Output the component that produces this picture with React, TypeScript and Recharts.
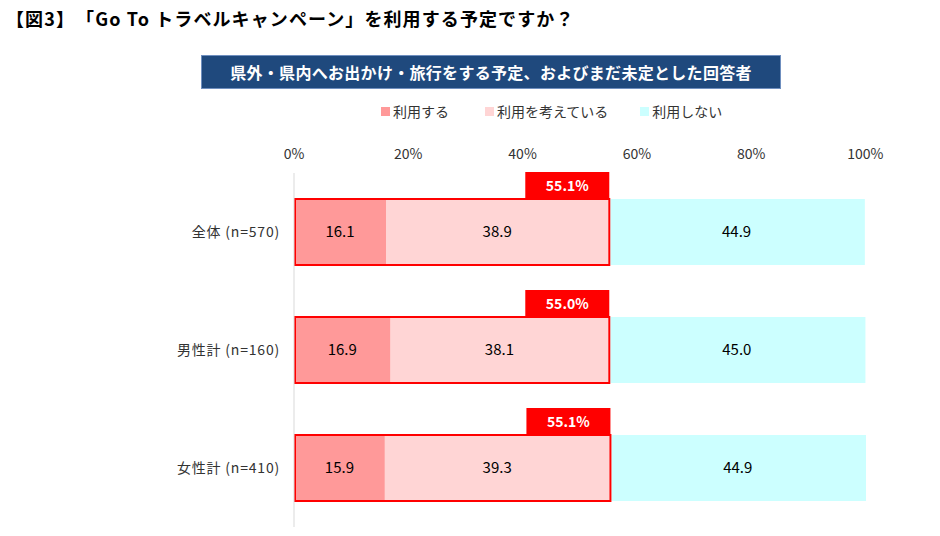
import { BarChart, Bar, XAxis, YAxis, LabelList, ReferenceLine } from 'recharts';

const FONT = '"Noto Sans CJK JP", "Noto Sans", sans-serif';

const categories = ['全体 (n=570)', '男性計 (n=160)', '女性計 (n=410)'];
const useValues = [16.1, 16.9, 15.9];
const considerValues = [38.9, 38.1, 39.3];
const notUseValues = [44.9, 45.0, 44.9];
const totalValues = [55.1, 55.0, 55.1];
const xTicks = [0, 20, 40, 60, 80, 100];

const SERIES = [
  { key: 'use', name: '利用する', color: '#ff9999' },
  { key: 'consider', name: '利用を考えている', color: '#ffd5d5' },
  { key: 'notUse', name: '利用しない', color: '#ccffff' },
];

const data = categories.map((name, i) => ({
  name,
  use: useValues[i],
  consider: considerValues[i],
  notUse: notUseValues[i],
  total: totalValues[i],
}));

// last segment is drawn on top, so it also draws the red frame around "use + consider" and the total badge
function NotUseShape(props: any) {
  const { x, y, width, height, payload, fill } = props;
  const unit = width / payload.notUse;
  const startX = x - (payload.use + payload.consider) * unit;
  const endX = x + 1;
  return (
    <g>
      <rect x={x + 2} y={y} width={width - 2} height={height} fill={fill} />
      <rect x={startX + 1} y={y} width={endX - startX - 1} height={height} fill="none" stroke="#ff0000" strokeWidth={2} />
      <rect x={endX - 84} y={y - 27} width={84} height={26} fill="#ff0000" />
      <text x={endX - 42} y={y - 14} textAnchor="middle" dominantBaseline="central" fill="#fff" fontWeight="bold" fontSize={14} fontFamily={FONT}>
        {payload.total.toFixed(1)}%
      </text>
    </g>
  );
}

const fmt = (v: any) => Number(v).toFixed(1);
const labelStyle = { fontSize: 15, fill: '#000', fontFamily: FONT };

export default function App() {
  return (
    <div style={{ position: 'absolute', left: 0, top: 0, width: 940, height: 536, background: '#fff', fontFamily: FONT }}>
      <div style={{ position: 'absolute', left: 6, top: 5, fontSize: 18, fontWeight: 'bold', color: '#000', whiteSpace: 'nowrap', letterSpacing: 1.1 }}>
        【図3】　「Go To トラベルキャンペーン」を利用する予定ですか？
      </div>
      <div
        style={{
          position: 'absolute', left: 201, top: 55, width: 578, height: 32,
          background: '#1f497d', border: '1px solid #6f8fbf', color: '#fff',
          fontSize: 16, fontWeight: 'bold', display: 'flex', alignItems: 'center', justifyContent: 'center',
          letterSpacing: 0.3,
        }}
      >
        県外・県内へお出かけ・旅行をする予定、およびまだ未定とした回答者
      </div>
      <div style={{ position: 'absolute', left: 381, top: 101, display: 'flex', fontSize: 14, color: '#333', whiteSpace: 'nowrap' }}>
        {SERIES.map((s, i) => (
          <div key={s.key} style={{ display: 'flex', alignItems: 'center', marginRight: i === 0 ? 36 : 32 }}>
            <span style={{ display: 'inline-block', width: 9, height: 9, background: s.color, marginRight: 3 }} />
            {s.name}
          </div>
        ))}
      </div>
      <BarChart
        width={940}
        height={536}
        data={data}
        layout="vertical"
        barSize={66}
        barCategoryGap={0}
        margin={{ top: 143, right: 74, bottom: 9, left: 20 }}
        style={{ position: 'absolute', left: 0, top: 0 }}
      >
        <XAxis
          type="number"
          orientation="top"
          domain={[0, 100]}
          ticks={xTicks}
          height={30}
          axisLine={false}
          tickLine={false}
          tickFormatter={(v) => `${v}%`}
          tick={{ fontSize: 14, fill: '#333', fontFamily: FONT }}
          tickMargin={8}
        />
        <YAxis
          type="category"
          dataKey="name"
          width={274}
          axisLine={false}
          tickLine={false}
          tickMargin={8}
          tick={{ fontSize: 14, fill: '#333', fontFamily: FONT, letterSpacing: 0.8 }}
        />
        <ReferenceLine x={0} stroke="#d9d9d9" strokeWidth={1} />
        <Bar dataKey="use" name={SERIES[0].name} stackId="a" fill={SERIES[0].color} isAnimationActive={false}>
          <LabelList dataKey="use" position="center" formatter={fmt} style={labelStyle} />
        </Bar>
        <Bar dataKey="consider" name={SERIES[1].name} stackId="a" fill={SERIES[1].color} isAnimationActive={false}>
          <LabelList dataKey="consider" position="center" formatter={fmt} style={labelStyle} />
        </Bar>
        <Bar dataKey="notUse" name={SERIES[2].name} stackId="a" fill={SERIES[2].color} shape={NotUseShape} isAnimationActive={false}>
          <LabelList dataKey="notUse" position="center" formatter={fmt} style={labelStyle} />
        </Bar>
      </BarChart>
    </div>
  );
}
